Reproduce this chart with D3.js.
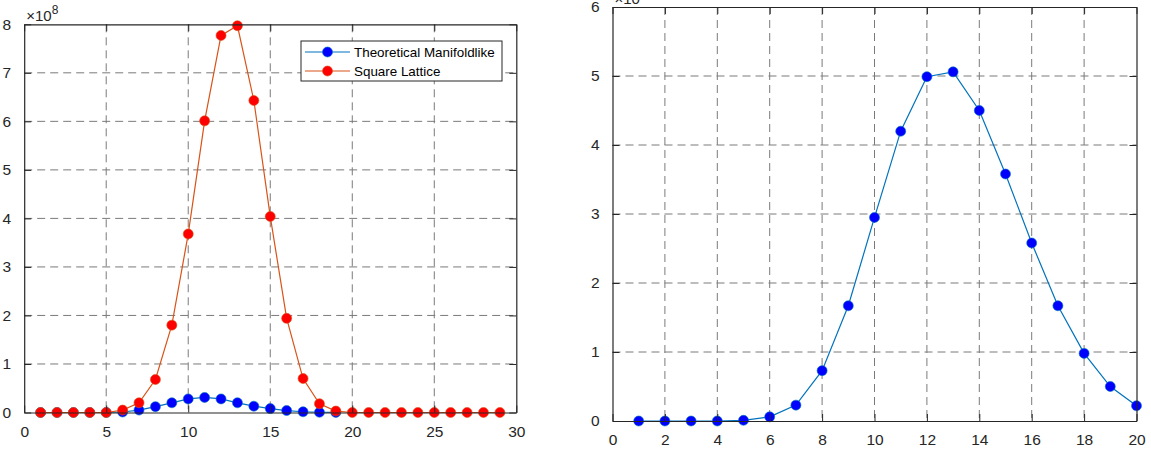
<!DOCTYPE html>
<html>
<head>
<meta charset="utf-8">
<script src="https://cdn.jsdelivr.net/npm/d3@7"></script>
<style>
  html, body { margin: 0; padding: 0; background: #fff; }
  svg { display: block; font-family: "Liberation Sans", Arial, sans-serif; }
</style>
</head>
<body>
<svg id="chart" width="1151" height="451"></svg>
<script>
// Left panel: state counts (units of 1e8) for two models
const leftXManifold = d3.range(1, 20);
const leftManifold = [0, 0, 0, 0, 0, 0.01, 0.05, 0.12, 0.20, 0.28, 0.31, 0.28, 0.20, 0.13, 0.08, 0.04, 0.015, 0.005, 0.002];
const leftXSquare = d3.range(1, 30);
const leftSquare = [0, 0, 0, 0, 0, 0.05, 0.20, 0.68, 1.80, 3.68, 6.01, 7.77, 7.97, 6.43, 4.04, 1.94, 0.70, 0.18, 0.03,
                    0, 0, 0, 0, 0, 0, 0, 0, 0, 0];
const leftXTicks = [0, 5, 10, 15, 20, 25, 30];
const leftYTicks = [0, 1, 2, 3, 4, 5, 6, 7, 8];
const seriesNames = ["Theoretical Manifoldlike", "Square Lattice"];

// Right panel: manifoldlike distribution
const rightX = d3.range(1, 21);
const rightValues = [0, 0, 0, 0, 0.01, 0.06, 0.23, 0.73, 1.67, 2.95, 4.20, 4.99, 5.06, 4.50, 3.58, 2.58, 1.67, 0.98, 0.50, 0.22];
const rightXTicks = [0, 2, 4, 6, 8, 10, 12, 14, 16, 18, 20];
const rightYTicks = [0, 1, 2, 3, 4, 5, 6];

const BLUE_LINE = "#0072BD", RED_LINE = "#D95319";
const BLUE_MARK = "#0000FF", RED_MARK = "#FF0000";
const AXIS = "#262626", GRID = "#7a7a7a";
const svg = d3.select("#chart");

function panel(cfg) {
  const g = svg.append("g");
  const x = d3.scaleLinear().domain(cfg.xDomain).range([cfg.left, cfg.right]);
  const y = d3.scaleLinear().domain(cfg.yDomain).range([cfg.bottom, cfg.top]);

  // dashed grid
  g.append("g").selectAll("line.gx")
    .data(cfg.xTicks.filter(t => t > cfg.xDomain[0] && t < cfg.xDomain[1]))
    .join("line")
    .attr("x1", d => x(d)).attr("x2", d => x(d))
    .attr("y1", cfg.top).attr("y2", cfg.bottom)
    .attr("stroke", GRID).attr("stroke-width", 1).attr("stroke-dasharray", "8,5");
  g.append("g").selectAll("line.gy")
    .data(cfg.yTicks.filter(t => t > cfg.yDomain[0] && t < cfg.yDomain[1]))
    .join("line")
    .attr("x1", cfg.left).attr("x2", cfg.right)
    .attr("y1", d => y(d)).attr("y2", d => y(d))
    .attr("stroke", GRID).attr("stroke-width", 1).attr("stroke-dasharray", "8,5");

  // series
  cfg.series.forEach(s => {
    const pts = s.x.map((xv, i) => [xv, s.y[i]]);
    g.append("path")
      .attr("d", d3.line().x(d => x(d[0])).y(d => y(d[1]))(pts))
      .attr("fill", "none").attr("stroke", s.line).attr("stroke-width", 1.2);
    g.append("g").selectAll("circle").data(pts).join("circle")
      .attr("cx", d => x(d[0])).attr("cy", d => y(d[1])).attr("r", 5)
      .attr("fill", s.mark).attr("stroke", s.line).attr("stroke-width", 0.6);
  });

  // axes with inward ticks, mirrored on top/right
  const tl = 7;
  const bottomAx = d3.axisBottom(x).tickValues(cfg.xTicks).tickSizeInner(-tl).tickSizeOuter(0).tickPadding(tl + 6).tickFormat(d3.format("d"));
  const leftAx = d3.axisLeft(y).tickValues(cfg.yTicks).tickSizeInner(-tl).tickSizeOuter(0).tickPadding(tl + 6).tickFormat(d3.format("d"));
  const topAx = d3.axisTop(x).tickValues(cfg.xTicks).tickSizeInner(-tl).tickSizeOuter(0).tickFormat("");
  const rightAx = d3.axisRight(y).tickValues(cfg.yTicks).tickSizeInner(-tl).tickSizeOuter(0).tickFormat("");

  const axes = [
    g.append("g").attr("transform", `translate(0,${cfg.bottom})`).call(bottomAx),
    g.append("g").attr("transform", `translate(${cfg.left},0)`).call(leftAx),
    g.append("g").attr("transform", `translate(0,${cfg.top})`).call(topAx),
    g.append("g").attr("transform", `translate(${cfg.right},0)`).call(rightAx)
  ];
  axes.forEach(a => {
    a.select(".domain").attr("stroke", AXIS).attr("stroke-width", 1.2);
    a.selectAll(".tick line").attr("stroke", AXIS).attr("stroke-width", 1);
    a.selectAll(".tick text").attr("fill", AXIS).attr("font-size", 15.5)
      .attr("font-family", "Liberation Sans, Arial, sans-serif");
  });

  // exponent label
  const ex = g.append("text").attr("x", cfg.left + 2).attr("y", cfg.expY)
    .attr("fill", AXIS).attr("font-size", 15);
  ex.append("tspan").text("\u00d710");
  ex.append("tspan").attr("dy", -7).attr("font-size", 12).text(cfg.exponent);

  return { g, x, y };
}

panel({
  left: 24.2, right: 516.3, top: 24.3, bottom: 412.5,
  xDomain: [0, 30], yDomain: [0, 8],
  xTicks: leftXTicks, yTicks: leftYTicks, exponent: "8", expY: 21,
  series: [
    { x: leftXManifold, y: leftManifold, line: BLUE_LINE, mark: BLUE_MARK },
    { x: leftXSquare, y: leftSquare, line: RED_LINE, mark: RED_MARK }
  ]
});

panel({
  left: 612.5, right: 1136.5, top: 7, bottom: 421,
  xDomain: [0, 20], yDomain: [0, 6],
  xTicks: rightXTicks, yTicks: rightYTicks, exponent: "7", expY: 4,
  series: [
    { x: rightX, y: rightValues, line: BLUE_LINE, mark: BLUE_MARK }
  ]
});

// legend for the left panel
const legend = svg.append("g").attr("transform", "translate(301,41)");
legend.append("rect").attr("width", 201).attr("height", 40)
  .attr("fill", "#fff").attr("stroke", AXIS).attr("stroke-width", 1);
[[BLUE_LINE, BLUE_MARK], [RED_LINE, RED_MARK]].forEach((c, i) => {
  const yy = 11 + i * 19;
  legend.append("line").attr("x1", 4).attr("x2", 49).attr("y1", yy).attr("y2", yy)
    .attr("stroke", c[0]).attr("stroke-width", 1.2);
  legend.append("circle").attr("cx", 26.5).attr("cy", yy).attr("r", 5)
    .attr("fill", c[1]).attr("stroke", c[0]).attr("stroke-width", 0.6);
  legend.append("text").attr("x", 53).attr("y", yy + 4.8)
    .attr("font-size", 13.4).attr("fill", "#000").text(seriesNames[i]);
});
</script>
</body>
</html>
